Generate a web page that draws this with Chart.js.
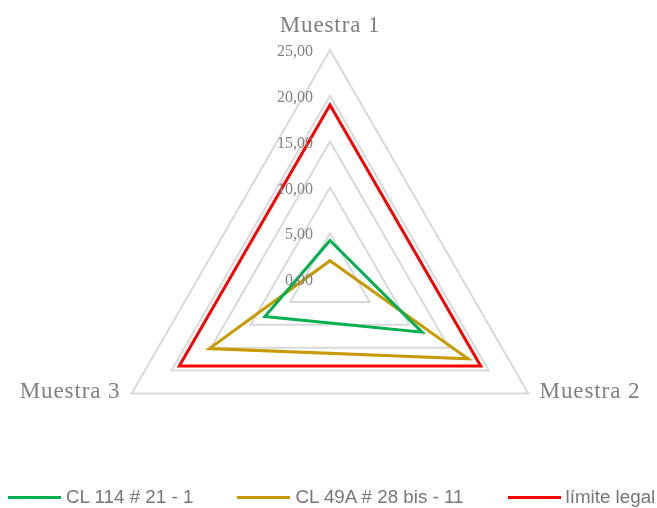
<!DOCTYPE html>
<html lang="es">
<head>
    <meta charset="UTF-8">
    <title>Muestras - límite legal</title>
    <style>
        body {
            margin: 0;
            background: #ffffff;
        }
        #wrap {
            position: relative;
            width: 657px;
            height: 508px;
        }
        #legend {
            position: absolute;
            left: 8px;
            top: 487px;
            display: flex;
            align-items: center;
            font-family: "Liberation Sans", Arial, sans-serif;
            font-size: 18.8px;
            line-height: 20px;
            color: #767676;
            white-space: nowrap;
        }
        .item {
            display: flex;
            align-items: center;
            margin-right: 44px;
        }
        .swatch {
            width: 53px;
            height: 3px;
            margin-right: 5px;
        }
    </style>
</head>
<body>
    <div id="wrap">
        <canvas id="radar" width="657" height="508"></canvas>
        <div id="legend"></div>
    </div>

    <script src="https://cdn.jsdelivr.net/npm/chart.js"></script>
    <script>
        // Datos
        const muestras = ['Muestra 1', 'Muestra 2', 'Muestra 3'];
        const nombresSeries = ['CL 114 # 21 - 1', 'CL 49A # 28 bis - 11', 'límite legal'];
        const cl114 = [4.2, 11.6, 8.2];
        const cl49a = [2.0, 17.4, 15.2];
        const limiteLegal = [19.0, 19.0, 19.0];
        const coloresSeries = ['#00b050', '#c99900', '#ff0000'];
        const escala = [0, 5, 10, 15, 20, 25];

        function formatoComa(v) {
            return v.toFixed(2).replace('.', ',');
        }

        // Tick values and axis names drawn beside the polygon, Excel style
        const etiquetasRadar = {
            id: 'etiquetasRadar',
            afterDraw(chart) {
                const scale = chart.scales.r;
                const ctx = chart.ctx;
                ctx.save();

                ctx.font = '16px "Liberation Serif"';
                ctx.fillStyle = '#808080';
                ctx.textAlign = 'right';
                ctx.textBaseline = 'middle';
                scale.ticks.forEach(function(t) {
                    const y = scale.yCenter - scale.getDistanceFromCenterForValue(t.value);
                    ctx.fillText(formatoComa(t.value), scale.xCenter - 17, y + 2);
                });

                ctx.font = '23px "Liberation Serif"';
                if ('letterSpacing' in ctx) ctx.letterSpacing = '0.9px';
                ctx.textBaseline = 'alphabetic';
                chart.data.labels.forEach(function(txt, i) {
                    if (i === 0) {
                        const p = scale.getPointPosition(i, scale.drawingArea + 18);
                        ctx.textAlign = 'center';
                        ctx.fillText(txt, p.x, p.y);
                    } else {
                        const p = scale.getPointPosition(i, scale.drawingArea + 13);
                        ctx.textAlign = p.x > scale.xCenter ? 'left' : 'right';
                        ctx.fillText(txt, p.x, p.y - 2);
                    }
                });
                ctx.restore();
            }
        };

        const series = [cl114, cl49a, limiteLegal];
        const ctx = document.getElementById('radar').getContext('2d');
        const radarChart = new Chart(ctx, {
            type: 'radar',
            data: {
                labels: muestras,
                datasets: series.map(function(vals, i) {
                    return {
                        label: nombresSeries[i],
                        data: vals,
                        borderColor: coloresSeries[i],
                        backgroundColor: coloresSeries[i],
                        borderWidth: 3,
                        fill: false,
                        pointRadius: 0,
                        pointHoverRadius: 0
                    };
                })
            },
            options: {
                responsive: false,
                animation: false,
                layout: {
                    padding: { left: 101, right: 98, top: 50, bottom: 0 }
                },
                elements: {
                    line: { tension: 0, borderJoinStyle: 'miter' }
                },
                scales: {
                    r: {
                        min: escala[0],
                        max: escala[escala.length - 1],
                        ticks: { stepSize: escala[1] - escala[0], display: false },
                        grid: { color: '#d9d9d9', lineWidth: 2 },
                        angleLines: { display: false },
                        pointLabels: { display: false }
                    }
                },
                plugins: {
                    legend: { display: false },
                    tooltip: { enabled: false }
                }
            },
            plugins: [etiquetasRadar]
        });

        // Legend below the chart, built from the datasets
        const legend = document.getElementById('legend');
        radarChart.data.datasets.forEach(function(ds) {
            const item = document.createElement('div');
            item.className = 'item';
            const sw = document.createElement('span');
            sw.className = 'swatch';
            sw.style.background = ds.borderColor;
            const txt = document.createElement('span');
            txt.textContent = ds.label;
            item.appendChild(sw);
            item.appendChild(txt);
            legend.appendChild(item);
        });
    </script>
</body>
</html>
